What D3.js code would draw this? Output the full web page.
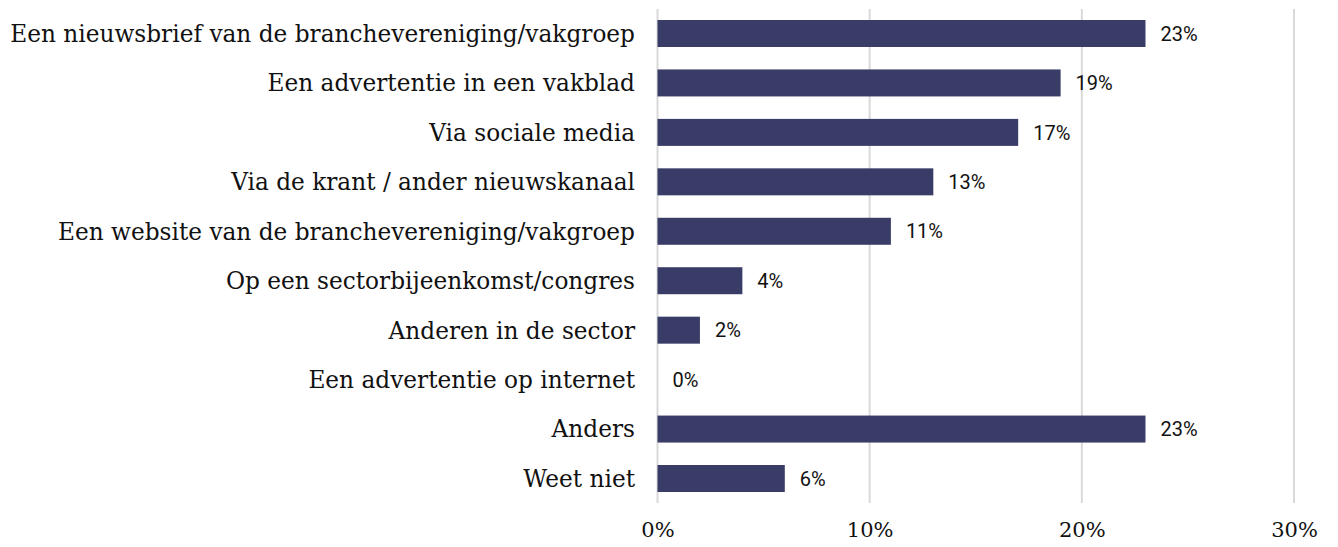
<!DOCTYPE html>
<html><head><meta charset="utf-8">
<script src="https://cdn.jsdelivr.net/npm/d3@7/dist/d3.min.js"></script>
<style>body{margin:0;background:#fff;}svg{display:block;}</style>
</head><body>
<svg id="chart" width="1338" height="547"></svg>
<script>
const categories = [
  "Een nieuwsbrief van de branchevereniging/vakgroep",
  "Een advertentie in een vakblad",
  "Via sociale media",
  "Via de krant / ander nieuwskanaal",
  "Een website van de branchevereniging/vakgroep",
  "Op een sectorbijeenkomst/congres",
  "Anderen in de sector",
  "Een advertentie op internet",
  "Anders",
  "Weet niet"
];
const values = [23, 19, 17, 13, 11, 4, 2, 0, 23, 6];
const tickValues = [0, 10, 20, 30];

const svg = d3.select("#chart");
const x = d3.scaleLinear().domain([0, 30]).range([657.5, 1294]);
const y = d3.scaleBand().domain(categories).range([20, 492]).paddingInner(0.454).paddingOuter(0);

const serif = "'DejaVu Serif', serif";

// gridlines
svg.append("g").selectAll("line").data(tickValues).join("line")
  .attr("x1", d => x(d)).attr("x2", d => x(d))
  .attr("y1", 9).attr("y2", 503)
  .attr("stroke", "#d9d9d9").attr("stroke-width", 2);

// bars
svg.append("g").selectAll("rect").data(values).join("rect")
  .attr("x", x(0)).attr("y", (d, i) => y(categories[i]))
  .attr("width", d => x(d) - x(0)).attr("height", y.bandwidth())
  .attr("fill", "#383c67");

// value labels
svg.append("g").selectAll("text").data(values).join("text")
  .attr("x", d => x(d) + 15).attr("y", (d, i) => y(categories[i]) + y.bandwidth() / 2)
  .attr("dy", "0.36em")
  .attr("font-family", "Roboto, 'Liberation Sans', sans-serif").attr("font-size", 20)
  .attr("fill", "#111")
  .text(d => d + "%");

// category labels
const cat = svg.append("g").selectAll("text").data(categories).join("text")
  .attr("x", 635).attr("y", d => y(d) + y.bandwidth() / 2)
  .attr("dy", "0.36em").attr("text-anchor", "end")
  .attr("font-family", serif).attr("font-size", 20)
  .attr("fill", "#111")
  .text(d => d);
const w = cat.nodes()[0].getComputedTextLength();
const fs = 20 * 625 / w;
cat.attr("font-size", fs);

// x axis tick labels
const axis = d3.axisBottom(x).tickValues(tickValues).tickFormat(d => d + "%").tickSize(0).tickPadding(0);
const ax = svg.append("g").attr("transform", "translate(0,522)").call(axis);
ax.select(".domain").remove();
ax.selectAll("text").attr("font-family", serif).attr("font-size", 21).attr("fill", "#111");
</script>
</body></html>
